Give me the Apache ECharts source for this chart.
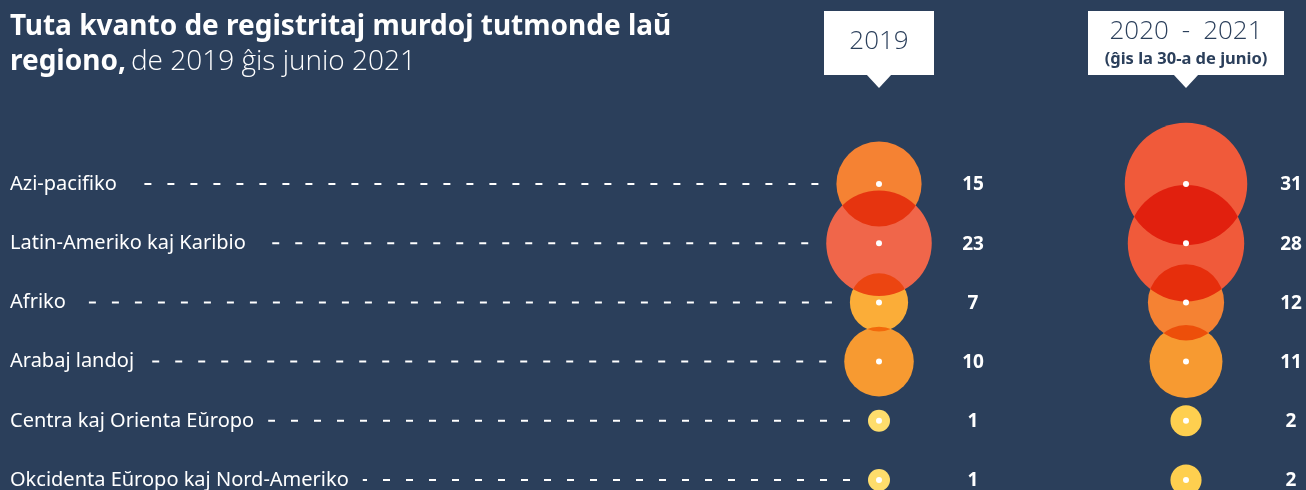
<!DOCTYPE html>
<html>
<head>
<meta charset="utf-8">
<script src="https://cdn.jsdelivr.net/npm/echarts@6/dist/echarts.min.js"></script>
<style>
  html, body { margin: 0; padding: 0; background: #2b3f5b; }
  #container { width: 1306px; height: 490px; }
</style>
</head>
<body>
<div id="container"></div>
<script>
const regions = [
  'Azi-pacifiko',
  'Latin-Ameriko kaj Karibio',
  'Afriko',
  'Arabaj landoj',
  'Centra kaj Orienta Eŭropo',
  'Okcidenta Eŭropo kaj Nord-Ameriko'
]
const periods = ['2019', '2020 - 2021']
const murders2019 = [15, 23, 7, 10, 1, 1]
const murders2021 = [31, 28, 12, 11, 2, 2]

const NAVY = '#2b3f5b'
const RADIUS_K = 11 // bubble radius = k * sqrt(value), area follows value
const GRID_TOP = 184
const LABEL_LEFT = 10
const HEADER_MARGIN = 109
const labelFont = { fontFamily: 'Noto Sans', fontSize: 20 }

const measureCtx = document.createElement('canvas').getContext('2d')
measureCtx.font = labelFont.fontSize + 'px "' + labelFont.fontFamily + '"'
const textWidth = (t) => measureCtx.measureText(t).width

function bubbleColor(v) {
  if (v <= 1) return '#fedd6c'
  if (v <= 2) return '#fecf4f'
  if (v <= 8) return '#fbad38'
  if (v <= 11) return '#f79a31'
  if (v <= 16) return '#f58233'
  if (v <= 25) return '#f0664a'
  return '#f05a3a'
}

const rows = (period, values) => regions.map((r, i) => [period, r, values[i]])

const dom = document.getElementById('container')
const myChart = echarts.init(dom)

function bubbleSeries(period, values, labelDx) {
  return {
    name: period,
    type: 'scatter',
    blendMode: 'multiply',
    symbolSize: (val) => 2 * RADIUS_K * Math.sqrt(val[2]),
    itemStyle: { color: (p) => bubbleColor(p.value[2]), opacity: 1 },
    label: {
      show: true,
      position: 'inside',
      offset: [labelDx, 1],
      formatter: (p) => p.value[2],
      color: '#fff',
      fontFamily: 'Noto Sans',
      fontWeight: 'bold',
      fontSize: 19
    },
    emphasis: { disabled: true },
    z: 2,
    data: rows(period, values)
  }
}

const option = {
  backgroundColor: 'transparent',
  animation: false,
  title: {
    left: 10,
    top: 10,
    padding: 0,
    text: '{b|Tuta kvanto de registritaj murdoj tutmonde laŭ}\n{b|regiono,} {l|de 2019 ĝis junio 2021}',
    textStyle: {
      rich: {
        b: { color: '#fff', fontFamily: 'Noto Sans', fontWeight: 'bold', fontSize: 28, lineHeight: 35 },
        l: { color: '#fff', fontFamily: 'Open Sans', fontWeight: 300, fontSize: 28, lineHeight: 35 }
      }
    }
  },
  grid: { left: 879, right: 120, top: GRID_TOP, bottom: 10 },
  xAxis: {
    type: 'category',
    position: 'top',
    boundaryGap: false,
    data: periods,
    axisLine: { show: false },
    axisTick: { show: false },
    splitLine: { show: false },
    axisLabel: {
      margin: HEADER_MARGIN,
      backgroundColor: '#fff',
      padding: [4, 0, 6, 0],
      formatter: (v) => v === periods[0]
        ? '{a|' + v + '}'
        : '{b|' + v.replace(' - ', '\u2002-\u2002') + '}\n{c|(ĝis la 30-a de junio)}',
      rich: {
        a: { width: 110, align: 'center', lineHeight: 54, fontSize: 26, fontWeight: 300, fontFamily: 'Open Sans', color: NAVY },
        b: { width: 196, align: 'center', lineHeight: 34, fontSize: 26, fontWeight: 300, fontFamily: 'Open Sans', color: NAVY },
        c: { width: 196, align: 'center', lineHeight: 20, fontSize: 16.5, fontWeight: 'bold', fontFamily: 'Noto Sans', color: NAVY }
      }
    }
  },
  yAxis: {
    type: 'category',
    inverse: true,
    boundaryGap: false,
    data: regions,
    axisLine: { show: false },
    axisTick: { show: false },
    splitLine: { show: false },
    axisLabel: {
      margin: 879 - LABEL_LEFT,
      align: 'left',
      color: '#fff',
      ...labelFont
    }
  },
  series: [
    {
      // dashed leaders from each region name to its 2019 bubble
      type: 'custom',
      silent: true,
      z: 1,
      encode: { x: 0, y: 1 },
      renderItem: (params, api) => {
        const c = api.coord([api.value(0), api.value(1)])
        const r = RADIUS_K * Math.sqrt(api.value(2))
        const start = LABEL_LEFT + textWidth(regions[params.dataIndex]) + 14
        const end = c[0] - r - 18
        return {
          type: 'line',
          shape: { x1: end, y1: c[1], x2: start, y2: c[1] },
          style: { stroke: '#fff', lineWidth: 2, lineDash: [7, 16] }
        }
      },
      data: rows(periods[0], murders2019)
    },
    bubbleSeries(periods[0], murders2019, 94),
    bubbleSeries(periods[1], murders2021, 105),
    {
      type: 'scatter',
      symbolSize: 6,
      silent: true,
      z: 3,
      itemStyle: { color: '#fff', opacity: 1 },
      data: rows(periods[0], murders2019).concat(rows(periods[1], murders2021))
    }
  ]
}

myChart.setOption(option)

// pointers under the header boxes
const boxBottom = GRID_TOP - HEADER_MARGIN
myChart.setOption({
  graphic: periods.map((p) => {
    const x = myChart.convertToPixel({ xAxisIndex: 0 }, p)
    return {
      type: 'polygon',
      silent: true,
      shape: { points: [[x - 13, boxBottom - 1], [x + 13, boxBottom - 1], [x, boxBottom + 13]] },
      style: { fill: '#fff' }
    }
  })
})
</script>
</body>
</html>
